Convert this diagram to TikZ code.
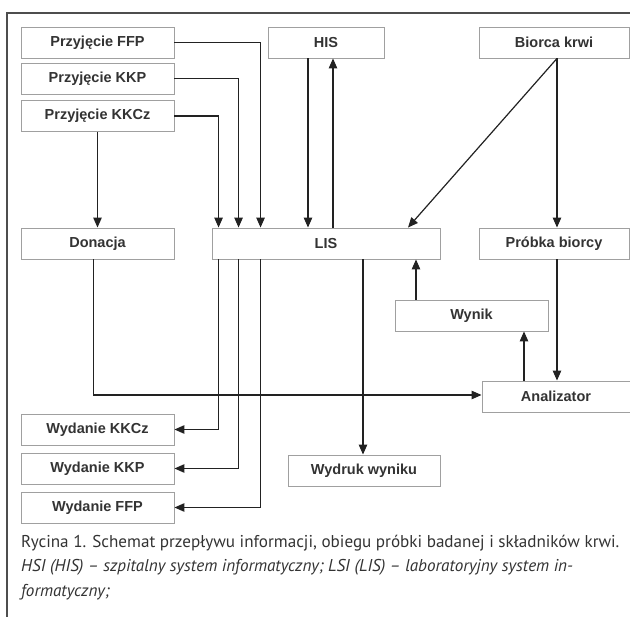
\documentclass[tikz,border=0pt]{standalone}
\usepackage{fontspec}
\setmainfont{PT Sans}
\newfontfamily\boxfont{Liberation Sans}
\usetikzlibrary{arrows.meta,calc}
\definecolor{boxline}{HTML}{A0A0A0}
\definecolor{boxtext}{HTML}{333333}
\definecolor{conn}{HTML}{222222}
\begin{document}
\begin{tikzpicture}[x=1pt,y=-1pt,
  box/.style={draw=boxline, line width=0.9pt, fill=white, minimum height=31pt,
    inner sep=0pt, font=\boxfont\bfseries\fontsize{14.5}{16}\selectfont, text=boxtext},
  arr/.style={draw=conn, line width=1.2pt, -{Triangle[length=10pt,width=8.5pt]}},
  frame/.style={draw=conn!80, line width=1.3pt},
  captext/.style={anchor=base west, inner sep=0pt, text=boxtext}]
\useasboundingbox (0,0) rectangle (630,617);
\draw[frame] (630,13) -- (7,13) -- (7,617);
% nodes
\node[box, minimum width=153pt] (pFFP) at (97.5,42.5) {Przyjęcie FFP};
\node[box, minimum width=153pt] (pKKP) at (97.5,78.5) {Przyjęcie KKP};
\node[box, minimum width=153pt] (pKKCz) at (97.5,116) {Przyjęcie KKCz};
\node[box, minimum width=116pt] (his) at (326,42.5) {HIS};
\node[box, minimum width=150pt] (biorca) at (554,42.5) {Biorca krwi};
\node[box, minimum width=153pt] (donacja) at (97.5,243.5) {Donacja};
\node[box, minimum width=228pt] (lis) at (326,243.5) {LIS};
\node[box, minimum width=150pt] (probka) at (554,243.5) {Próbka biorcy};
\node[box, minimum width=153pt] (wynik) at (471.5,315.5) {Wynik};
\node[box, minimum width=148pt] (analizator) at (556,396.5) {Analizator};
\node[box, minimum width=153pt] (wKKCz) at (97.5,429.5) {Wydanie KKCz};
\node[box, minimum width=153pt] (wKKP) at (97.5,468.5) {Wydanie KKP};
\node[box, minimum width=153pt] (wFFP) at (97.5,507.5) {Wydanie FFP};
\node[box, minimum width=152pt] (wydruk) at (364,470.5) {Wydruk wyniku};
% connectors into LIS
\draw[arr] (pFFP.east) -| ([xshift=49pt]lis.north west);
\draw[arr] (pKKP.east) -| ([xshift=27pt]lis.north west);
\draw[arr] (pKKCz.east) -| ([xshift=7pt]lis.north west);
\draw[arr] (pKKCz.south) -- (donacja.north);
\draw[arr] ([xshift=-18pt]his.south) -- ([xshift=-18pt]lis.north);
\draw[arr] ([xshift=7pt]lis.north) -- ([xshift=7pt]his.south);
\draw[arr] ([xshift=3pt]biorca.south) -- ([xshift=82pt]lis.north);
\draw[arr] ([xshift=3pt]biorca.south) -- ([xshift=3pt]probka.north);
\draw[arr] ([xshift=3pt]probka.south) -- ([xshift=1pt]analizator.north);
\draw[arr] ([xshift=-32pt]analizator.north) -- ([xshift=52.5pt]wynik.south);
\draw[arr] ([xshift=-55.5pt]wynik.north) -- ([xshift=90pt]lis.south);
% out of LIS
\draw[arr] ([xshift=7pt]lis.south west) |- (wKKCz.east);
\draw[arr] ([xshift=27pt]lis.south west) |- (wKKP.east);
\draw[arr] ([xshift=49pt]lis.south west) |- (wFFP.east);
\draw[arr] ([xshift=37pt]lis.south) -- ([xshift=-1pt]wydruk.north);
\draw[arr] ([xshift=-4pt]donacja.south) |- ([yshift=1.5pt]analizator.west);
% caption
\node[captext, font=\fontsize{17.1}{20}\selectfont] (cap1) at (21,548)
  {Rycina 1. Schemat przepływu informacji, obiegu próbki badanej i składników krwi.};
\node[captext, font=\itshape\fontsize{17.1}{20}\selectfont] (cap2) at (21,572)
  {HSI (HIS) – szpitalny system informatyczny; LSI (LIS) – laboratoryjny system in-};
\node[captext, font=\itshape\fontsize{17.1}{20}\selectfont] (cap3) at (21,597)
  {formatyczny;};
\end{tikzpicture}
\end{document}
